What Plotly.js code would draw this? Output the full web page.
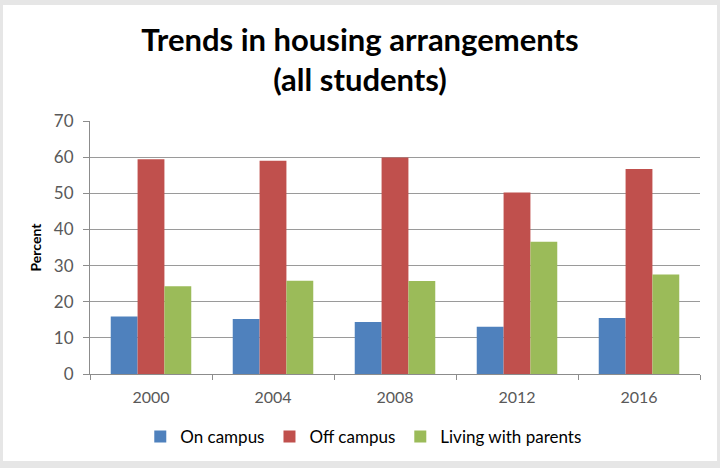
<!DOCTYPE html>
<html>
<head>
<meta charset="utf-8">
<script src="https://cdn.plot.ly/plotly-3.0.1.min.js"></script>
<style>
  html, body { margin: 0; padding: 0; background: #e6e6e6; }
  #chart { position: absolute; left: 3px; top: 5px; width: 714px; height: 456px; background: #ffffff; }
</style>
</head>
<body>
<div id="chart"></div>
<script>
// Chart data
const years = ['2000', '2004', '2008', '2012', '2016'];
const onCampus = [15.9, 15.2, 14.4, 13.1, 15.5];
const offCampus = [59.4, 59.0, 59.9, 50.2, 56.7];
const withParents = [24.3, 25.8, 25.7, 36.6, 27.5];
const yTicks = [0, 10, 20, 30, 40, 50, 60, 70];

const fontFamily = 'Lato, "Open Sans", sans-serif';
const tickColor = '#595959';
const lineColor = '#8c8c8c';

const traces = [
    { x: years, y: onCampus, type: 'bar', name: 'On campus', marker: { color: '#4F81BD' } },
    { x: years, y: offCampus, type: 'bar', name: 'Off campus', marker: { color: '#C0504D' } },
    { x: years, y: withParents, type: 'bar', name: 'Living with parents', marker: { color: '#9BBB59' } }
];

const layout = {
    width: 714,
    height: 456,
    paper_bgcolor: '#ffffff',
    plot_bgcolor: '#ffffff',
    margin: { l: 87, r: 17, t: 116, b: 87 },
    font: { family: fontFamily, color: tickColor, size: 16 },
    barmode: 'group',
    bargap: 0.34,
    bargroupgap: 0,
    title: {
        text: 'Trends in housing arrangements<br>(all students)',
        font: { family: fontFamily, size: 31, color: '#000000', weight: 'bold' },
        x: 0.5,
        xanchor: 'center',
        yref: 'container',
        y: 0.9,
        yanchor: 'middle'
    },
    xaxis: {
        type: 'category',
        showline: true,
        linecolor: lineColor,
        linewidth: 1,
        ticks: 'outside',
        tickson: 'boundaries',
        ticklen: 5,
        tickcolor: lineColor,
        showgrid: false,
        ticklabelstandoff: 9,
        tickfont: { size: 16, color: tickColor }
    },
    yaxis: {
        range: [0, 70],
        tickvals: yTicks,
        ticktext: yTicks.map(String),
        showline: true,
        linecolor: lineColor,
        linewidth: 1,
        ticks: 'outside',
        ticklen: 6,
        tickcolor: lineColor,
        showgrid: true,
        gridcolor: '#9a9a9a',
        gridwidth: 1,
        zeroline: false,
        ticklabelstandoff: 6,
        tickfont: { size: 17, color: tickColor },
        title: { text: 'Percent', font: { size: 14, color: '#000000', weight: 'bold' }, standoff: 8 }
    },
    legend: {
        orientation: 'h',
        x: 0.448,
        xanchor: 'center',
        yref: 'container',
        y: 0.053,
        yanchor: 'middle',
        font: { size: 17, color: '#000000' },
        itemwidth: 30
    }
};

Plotly.newPlot('chart', traces, layout, { displayModeBar: false, staticPlot: true });
</script>
</body>
</html>
